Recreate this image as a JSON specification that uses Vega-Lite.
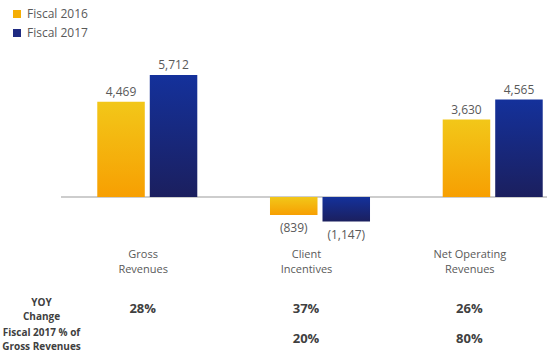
{
  "$schema": "https://vega.github.io/schema/vega-lite/v6.json",
  "background": "white",
  "padding": {"left": 1, "top": 8, "right": 0, "bottom": 0},
  "spacing": 5,
  "datasets": {
    "bars": [
      {"category": "Gross Revenues", "year": "Fiscal 2016", "value": 4469, "label": "4,469"},
      {"category": "Gross Revenues", "year": "Fiscal 2017", "value": 5712, "label": "5,712"},
      {"category": "Client Incentives", "year": "Fiscal 2016", "value": -839, "label": "(839)"},
      {"category": "Client Incentives", "year": "Fiscal 2017", "value": -1147, "label": "(1,147)"},
      {"category": "Net Operating Revenues", "year": "Fiscal 2016", "value": 3630, "label": "3,630"},
      {"category": "Net Operating Revenues", "year": "Fiscal 2017", "value": 4565, "label": "4,565"}
    ],
    "table": [
      {"category": "Gross Revenues", "metric": "YOY Change", "text": "28%"},
      {"category": "Client Incentives", "metric": "YOY Change", "text": "37%"},
      {"category": "Net Operating Revenues", "metric": "YOY Change", "text": "26%"},
      {"category": "Client Incentives", "metric": "Fiscal 2017 % of Gross Revenues", "text": "20%"},
      {"category": "Net Operating Revenues", "metric": "Fiscal 2017 % of Gross Revenues", "text": "80%"}
    ]
  },
  "vconcat": [
    {
      "width": 518,
      "height": 195,
      "data": {"name": "bars"},
      "layer": [
        {
          "data": {"values": [{"zero": 0}]},
          "mark": {"type": "rule", "color": "#BDBDBD", "strokeWidth": 1.5},
          "encoding": {"y": {"field": "zero", "type": "quantitative", "axis": null, "scale": {"domain": [-2150, 6980], "nice": false, "zero": false}}}
        },
        {
          "mark": {"type": "bar", "opacity": 0},
          "encoding": {
            "x": {"field": "category", "type": "nominal", "sort": ["Gross Revenues", "Client Incentives", "Net Operating Revenues"], "axis": null, "scale": {"paddingInner": 0.4209, "paddingOuter": 0.21}},
            "xOffset": {"field": "year", "type": "nominal", "scale": {"paddingInner": 0.095, "paddingOuter": 0}},
            "y": {"field": "value", "type": "quantitative", "axis": null, "scale": {"domain": [-2150, 6980], "nice": false, "zero": false}},
            "color": {
              "field": "year", "type": "nominal",
              "scale": {"range": ["#F5AE05", "#1F2B82"]},
              "legend": {
                "title": null, "orient": "none", "legendX": -50, "legendY": -40,
                "symbolType": "square", "symbolSize": 64, "symbolOpacity": 1, "symbolStrokeWidth": 0,
                "labelFont": "Open Sans", "labelFontSize": 12, "labelColor": "#595959",
                "labelOffset": 4, "rowPadding": 7, "padding": 0
              }
            }
          }
        },
        {
          "transform": [{"filter": "datum.year == 'Fiscal 2016'"}],
          "mark": {"type": "bar", "color": {"gradient": "linear", "x1": 0, "y1": 0, "x2": 0, "y2": 1, "stops": [{"offset": 0, "color": "#F2C719"}, {"offset": 1, "color": "#F79F02"}]}},
          "encoding": {
            "x": {"field": "category", "type": "nominal", "sort": ["Gross Revenues", "Client Incentives", "Net Operating Revenues"], "axis": null},
            "xOffset": {"field": "year", "type": "nominal"},
            "y": {"field": "value", "type": "quantitative", "axis": null}
          }
        },
        {
          "transform": [{"filter": "datum.year == 'Fiscal 2017'"}],
          "mark": {"type": "bar", "color": {"gradient": "linear", "x1": 0, "y1": 0, "x2": 0, "y2": 1, "stops": [{"offset": 0, "color": "#14319B"}, {"offset": 1, "color": "#1B1F5E"}]}},
          "encoding": {
            "x": {"field": "category", "type": "nominal", "sort": ["Gross Revenues", "Client Incentives", "Net Operating Revenues"], "axis": null},
            "xOffset": {"field": "year", "type": "nominal"},
            "y": {"field": "value", "type": "quantitative", "axis": null}
          }
        },
        {
          "transform": [{"filter": "datum.value >= 0"}],
          "mark": {"type": "text", "baseline": "alphabetic", "dy": -6, "font": "Open Sans", "fontSize": 12, "color": "#595959"},
          "encoding": {
            "x": {"field": "category", "type": "nominal", "sort": ["Gross Revenues", "Client Incentives", "Net Operating Revenues"], "axis": null},
            "xOffset": {"field": "year", "type": "nominal"},
            "y": {"field": "value", "type": "quantitative", "axis": null},
            "text": {"field": "label"}
          }
        },
        {
          "transform": [{"filter": "datum.value < 0"}],
          "mark": {"type": "text", "baseline": "top", "dy": 8, "font": "Open Sans", "fontSize": 12, "color": "#595959"},
          "encoding": {
            "x": {"field": "category", "type": "nominal", "sort": ["Gross Revenues", "Client Incentives", "Net Operating Revenues"], "axis": null},
            "xOffset": {"field": "year", "type": "nominal"},
            "y": {"field": "value", "type": "quantitative", "axis": null},
            "text": {"field": "label"}
          }
        }
      ]
    },
    {
      "width": 490,
      "height": 60,
      "data": {"name": "table"},
      "mark": {"type": "text", "font": "Open Sans", "fontSize": 13, "fontWeight": "bold", "color": "#404040"},
      "encoding": {
        "x": {
          "field": "category", "type": "nominal",
          "sort": ["Gross Revenues", "Client Incentives", "Net Operating Revenues"],
          "scale": {"type": "point", "padding": 0.5, "domain": ["Gross Revenues", "Client Incentives", "Net Operating Revenues"]},
          "axis": {
            "orient": "top", "title": null, "labelAngle": 0, "domain": false, "ticks": false, "grid": false,
            "labelPadding": 35, "labelFont": "Open Sans", "labelFontSize": 11, "labelColor": "#595959", "labelLineHeight": 15,
            "labelExpr": "datum.value == 'Gross Revenues' ? ['Gross', 'Revenues'] : datum.value == 'Client Incentives' ? ['Client', 'Incentives'] : ['Net Operating', 'Revenues']"
          }
        },
        "y": {
          "field": "metric", "type": "nominal",
          "sort": ["YOY Change", "Fiscal 2017 % of Gross Revenues"],
          "scale": {"type": "point", "padding": 0.5},
          "axis": {
            "title": null, "domain": false, "ticks": false, "grid": false,
            "labelAlign": "center", "labelPadding": 20, "labelOffset": -7, "labelFont": "Open Sans", "labelFontSize": 10, "labelFontWeight": "bold",
            "labelColor": "#404040", "labelLineHeight": 14,
            "labelExpr": "datum.value == 'YOY Change' ? ['YOY', 'Change'] : ['Fiscal 2017 % of', 'Gross Revenues']"
          }
        },
        "text": {"field": "text"}
      }
    }
  ],
  "config": {"view": {"stroke": null}}
}
